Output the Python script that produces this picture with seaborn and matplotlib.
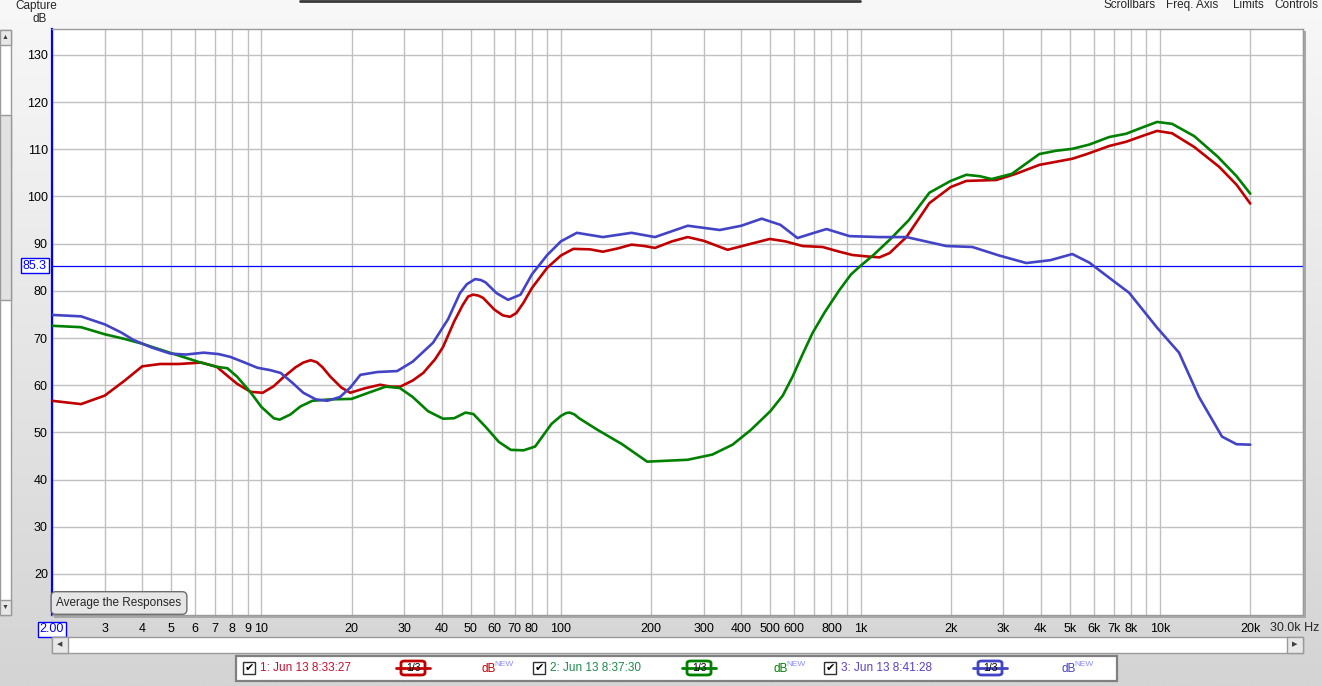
import numpy as np
import pandas as pd
import seaborn as sns
import matplotlib.pyplot as plt
from matplotlib.patches import Rectangle, FancyBboxPatch
from matplotlib.lines import Line2D
from matplotlib.ticker import NullLocator

red_freq = [2.0, 2.5, 3.0, 3.5, 4.0, 4.6, 5.3, 6.3, 7.1, 7.7, 8.3, 9.2, 10.1, 11.0, 11.8,
            13.0, 13.8, 14.6, 15.3, 16.0, 17.0, 18.5, 19.8, 22.0, 24.9, 27.0, 29.1, 32.0, 34.7, 38.0,
            40.4, 44.0, 47.0, 49.0, 50.9, 53.0, 55.0, 60.0, 64.0, 67.6, 71.0, 75.0, 80.0, 90.0,
            100, 110, 125, 138, 155, 172, 190, 206, 235, 265, 300, 360, 420, 498, 560, 641, 747,
            850, 940, 1050, 1157, 1250, 1423, 1698, 2000, 2256, 2840, 3300, 3953, 5093, 5700,
            6761, 7703, 8700, 9772, 10965, 13000, 15740, 18000, 20000]
red_db = [56.7, 56.0, 57.8, 61.0, 64.0, 64.5, 64.5, 64.8, 63.9, 62.0, 60.3, 58.6, 58.4, 59.8,
          61.6, 63.8, 64.8, 65.3, 64.9, 63.8, 61.8, 59.5, 58.4, 59.3, 60.1, 59.7, 59.7, 61.0, 62.6,
          65.5, 68.1, 73.5, 77.0, 78.8, 79.2, 79.0, 78.5, 76.0, 74.8, 74.5, 75.3, 77.5, 80.6,
          84.9, 87.5, 88.9, 88.8, 88.3, 89.0, 89.8, 89.5, 89.1, 90.5, 91.4, 90.6, 88.7, 89.8,
          91.0, 90.5, 89.5, 89.3, 88.3, 87.6, 87.3, 87.1, 88.0, 91.4, 98.6, 102.0, 103.3, 103.5,
          104.8, 106.7, 108.0, 109.0, 110.7, 111.6, 112.8, 113.9, 113.4, 110.5, 106.3, 102.5, 98.5]

green_freq = [2.0, 2.5, 3.0, 3.5, 4.0, 5.0, 6.2, 7.1, 7.7, 8.3, 9.2, 10.0, 11.0, 11.5, 12.5,
              13.5, 14.8, 17.0, 20.0, 23.0, 26.0, 29.0, 32.0, 36.0, 40.4, 44.0, 48.0, 51.0,
              56.0, 62.0, 68.0, 75.0, 82.0, 93.0, 100, 104, 107, 111, 115, 132, 160, 194, 265,
              320, 374, 430, 500, 550, 593, 640, 692, 760, 851, 930, 1000, 1100, 1250, 1450,
              1698, 2000, 2256, 2500, 2740, 3200, 3953, 4500, 5093, 5800, 6761, 7703, 8700,
              9772, 10965, 13000, 15600, 18000, 20000]
green_db = [72.6, 72.3, 70.8, 69.8, 68.8, 66.8, 64.9, 63.9, 63.6, 61.8, 58.5, 55.4, 53.0, 52.7,
            53.8, 55.5, 56.7, 57.0, 57.1, 58.5, 59.7, 59.4, 57.5, 54.5, 52.9, 53.0, 54.2, 53.9,
            51.2, 48.0, 46.3, 46.2, 47.0, 51.8, 53.5, 54.1, 54.2, 53.8, 53.0, 50.6, 47.5, 43.8,
            44.2, 45.3, 47.4, 50.5, 54.5, 57.8, 61.8, 66.5, 71.1, 75.5, 80.2, 83.5, 85.3, 87.5,
            90.8, 95.0, 100.8, 103.3, 104.6, 104.3, 103.7, 104.8, 109.0, 109.7, 110.1, 111.0,
            112.6, 113.3, 114.6, 115.8, 115.4, 112.8, 108.4, 104.3, 100.6]

blue_freq = [2.0, 2.5, 3.0, 3.4, 3.74, 4.3, 4.97, 5.6, 6.41, 7.2, 7.88, 8.8, 9.7, 10.7, 11.6,
             12.7, 13.8, 15.2, 16.6, 18.3, 19.8, 21.4, 24.4, 28.4, 32.0, 37.4, 42.0, 46.0,
             48.5, 51.7, 54.0, 56.0, 61.0, 66.6, 73.3, 80.0, 90.0, 100, 113, 138, 172, 206, 265,
             339, 400, 468, 540, 616, 700, 770, 919, 1157, 1423, 1935, 2363, 2900, 3575, 4300,
             5093, 5800, 6920, 7880, 9772, 11570, 13490, 16100, 18000, 20000]
blue_db = [74.9, 74.6, 72.9, 71.2, 69.6, 68.0, 66.7, 66.5, 66.9, 66.6, 66.0, 64.8, 63.7, 63.2,
           62.6, 60.5, 58.4, 57.0, 56.7, 57.5, 59.5, 62.2, 62.8, 63.0, 65.0, 69.0, 74.0, 79.5,
           81.4, 82.5, 82.3, 81.8, 79.5, 78.1, 79.2, 83.5, 87.6, 90.5, 92.3, 91.4, 92.3, 91.4,
           93.8, 92.9, 93.8, 95.3, 94.0, 91.2, 92.3, 93.1, 91.6, 91.4, 91.4, 89.5, 89.3, 87.5,
           85.9, 86.5, 87.8, 86.0, 82.3, 79.6, 72.2, 66.9, 57.5, 49.1, 47.5, 47.4]

series_names = ['1: Jun 13 8:33:27', '2: Jun 13 8:37:30', '3: Jun 13 8:41:28']
line_colors = ['#c00000', '#008000', '#4343c6']
text_colors = ['#c8102e', '#1f8a4c', '#5a40c8']

ref_level = 85.3
y_ticks = [20, 30, 40, 50, 60, 70, 80, 90, 100, 110, 120, 130]
x_ticks = [2, 3, 4, 5, 6, 7, 8, 9, 10, 20, 30, 40, 50, 60, 70, 80, 90,
           100, 200, 300, 400, 500, 600, 700, 800, 900,
           1000, 2000, 3000, 4000, 5000, 6000, 7000, 8000, 9000, 10000, 20000, 30000]
x_labels = ['2.00', '3', '4', '5', '6', '7', '8', '9', '10', '20', '30', '40', '50', '60', '70', '80', '',
            '100', '200', '300', '400', '500', '600', '', '800', '',
            '1k', '2k', '3k', '4k', '5k', '6k', '7k', '8k', '', '10k', '20k', '']

df = pd.concat([
    pd.DataFrame({'freq': f, 'db': d, 'series': n})
    for f, d, n in zip([red_freq, green_freq, blue_freq], [red_db, green_db, blue_db], series_names)
])

sns.set_style('white')
plt.rcParams['font.family'] = ['Liberation Sans', 'DejaVu Sans']

W, H = 1322, 686
def fx(x):
    return x / W
def fy(y):
    return 1 - y / H

fig = plt.figure(figsize=(W / 100, H / 100), dpi=100)

# window background gradient
bg = fig.add_axes([0, 0, 1, 1], zorder=-10)
grad = np.linspace(0, 1, 256).reshape(-1, 1)
bg.imshow(grad, aspect='auto', cmap=sns.blend_palette(['#f8f8f8', '#d4d4d4'], as_cmap=True),
          extent=[0, 1, 0, 1])
bg.set_axis_off()

# plot frame shadow
fig.patches.append(Rectangle((fx(54), fy(618)), fx(1252), (618 - 31) / H,
                             transform=fig.transFigure, facecolor='#a8a8a8', edgecolor='none', zorder=-5))

ax = fig.add_axes([fx(52), fy(615), fx(1303 - 52), (615 - 29) / H])
ax.set_facecolor('white')

sns.lineplot(data=df, x='freq', y='db', hue='series', palette=dict(zip(series_names, line_colors)),
             estimator=None, linewidth=1.9, legend=False, ax=ax, zorder=3,
             solid_joinstyle='round', solid_capstyle='round')
ax.axhline(ref_level, color='#0000ff', linewidth=0.9, zorder=2)

ax.set_xscale('log')
ax.set_xlim(2, 30000)
ax.set_ylim(11.3, 135.5)
ax.set_xticks(x_ticks)
ax.set_xticklabels(x_labels)
ax.xaxis.set_minor_locator(NullLocator())
ax.set_yticks(y_ticks)
ax.set_xlabel('')
ax.set_ylabel('')
ax.grid(True, color='#c0c0c0', linewidth=1.0, zorder=0)
ax.tick_params(axis='both', length=0, labelsize=9, colors='black')
ax.tick_params(axis='x', pad=6)
ax.tick_params(axis='y', pad=3)
for side in ['top', 'right', 'bottom']:
    ax.spines[side].set_color('#9a9a9a')
    ax.spines[side].set_linewidth(1)
ax.spines['left'].set_color('#0000ff')
ax.spines['left'].set_linewidth(1.6)

first = ax.get_xticklabels()[0]
first.set_color('#0000ff')
first.set_bbox(dict(facecolor='white', edgecolor='#0000ff', pad=1.2, linewidth=1))

ax.text(-0.004, ref_level, '85.3', transform=ax.get_yaxis_transform(), ha='right', va='center',
        fontsize=9, color='#0000ff',
        bbox=dict(facecolor='white', edgecolor='#0000ff', pad=1.2, linewidth=1))

# last frequency label with the unit
fig.text(fx(1319), fy(628), '30.0k Hz', ha='right', va='center', fontsize=9)

# "Average the Responses" button
fig.text(fx(119), fy(603), 'Average the Responses', ha='center', va='center', fontsize=8.5,
         bbox=dict(boxstyle='round,pad=0.45,rounding_size=0.4', facecolor='#e6e6e6', edgecolor='#6e6e6e'))

# top labels
fig.text(fx(36), fy(6), 'Capture', ha='center', va='center', fontsize=8.5)
fig.text(fx(40), fy(19), 'dB', ha='center', va='center', fontsize=8.5)
for label, xc in [('Scrollbars', 1130), ('Freq. Axis', 1192), ('Limits', 1248), ('Controls', 1296)]:
    fig.text(fx(xc), fy(5), label, ha='center', va='center', fontsize=8.5)
fig.lines.append(Line2D([fx(300), fx(860)], [fy(0.6), fy(0.6)], transform=fig.transFigure,
                        color='#3a3a3a', linewidth=2))

# left scrollbar
fig.patches.append(Rectangle((0, fy(615)), fx(11), (615 - 30) / H, transform=fig.transFigure,
                             facecolor='white', edgecolor='#9a9a9a', linewidth=1))
fig.patches.append(Rectangle((0, fy(300)), fx(11), (300 - 115) / H, transform=fig.transFigure,
                             facecolor='#e2e2e2', edgecolor='#9a9a9a', linewidth=1))
for yy, glyph in [(30, '▲'), (600, '▼')]:
    fig.patches.append(Rectangle((0, fy(yy + 15)), fx(11), 15 / H, transform=fig.transFigure,
                                 facecolor='#e8e8e8', edgecolor='#9a9a9a', linewidth=1))
    fig.text(fx(5.5), fy(yy + 7.5), glyph, ha='center', va='center', fontsize=5, color='#404040')

# bottom scrollbar
fig.patches.append(Rectangle((fx(52), fy(653)), fx(1303 - 52), 16 / H, transform=fig.transFigure,
                             facecolor='white', edgecolor='#9a9a9a', linewidth=1))
for xx, glyph in [(52, '◀'), (1287, '▶')]:
    fig.patches.append(Rectangle((fx(xx), fy(653)), fx(16), 16 / H, transform=fig.transFigure,
                                 facecolor='#e8e8e8', edgecolor='#9a9a9a', linewidth=1))
    fig.text(fx(xx + 8), fy(645), glyph, ha='center', va='center', fontsize=5, color='#404040')

# legend strip
fig.patches.append(Rectangle((fx(236), fy(681)), fx(1117 - 236), 25 / H, transform=fig.transFigure,
                             facecolor='white', edgecolor='#808080', linewidth=1.6))
yl = 668
for i, (name, lc, tc) in enumerate(zip(series_names, line_colors, text_colors)):
    x0 = [243, 533, 824][i]
    fig.patches.append(Rectangle((fx(x0), fy(yl + 6)), fx(12), 12 / H, transform=fig.transFigure,
                                 facecolor='white', edgecolor='#303030', linewidth=1))
    fig.text(fx(x0 + 6), fy(yl), '✔', ha='center', va='center', fontsize=8, color='black')
    fig.text(fx(x0 + 17), fy(yl), name, ha='left', va='center', fontsize=8.5, color=tc)
    xs = [396, 682, 973][i]
    fig.lines.append(Line2D([fx(xs), fx(xs + 34)], [fy(yl), fy(yl)], transform=fig.transFigure,
                            color=lc, linewidth=2))
    fig.patches.append(FancyBboxPatch((fx(xs + 5), fy(yl + 7)), fx(24), 14 / H,
                                      boxstyle='round,pad=0,rounding_size=0.003',
                                      transform=fig.transFigure, facecolor='white',
                                      edgecolor=lc, linewidth=2))
    fig.text(fx(xs + 17), fy(yl), '1/3', ha='center', va='center', fontsize=7.5, color='black')
    xd = [481, 773, 1061][i]
    fig.text(fx(xd), fy(yl + 1), 'dB', ha='left', va='center', fontsize=8.5, color=lc)
    fig.text(fx(xd + 13), fy(yl - 4), 'NEW', ha='left', va='center', fontsize=6, color='#8c8cff')

fig.savefig('out.png', dpi=100)
